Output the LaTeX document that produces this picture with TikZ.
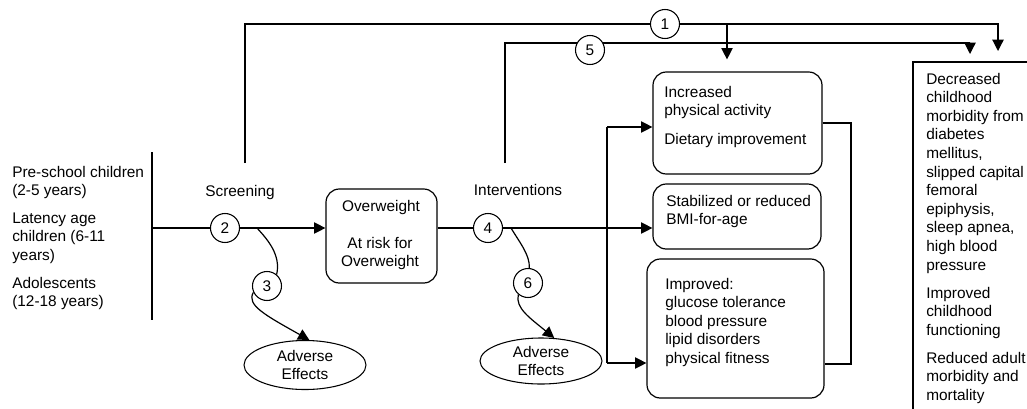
\documentclass[tikz,border=0pt]{standalone}
\usepackage{fontspec}
\setmainfont{Liberation Sans}
\usetikzlibrary{arrows.meta,shapes.geometric,backgrounds}
\begin{document}
\begin{tikzpicture}[x=0.75pt,y=-0.75pt,
  every node/.style={font=\fontsize{11.55}{13.95}\selectfont},
  txt/.style={anchor=base west, inner sep=0pt, align=left},
  ctxt/.style={anchor=base, inner sep=0pt, align=center},
  rbox/.style={draw, line width=0.9pt, rounded corners=10pt, inner sep=0pt},
  num/.style={draw, circle, fill=white, line width=0.8pt, minimum size=21.75pt, inner sep=0pt},
  eff/.style={draw, ellipse, line width=0.8pt, inner sep=0pt, align=center},
  ln/.style={line width=0.9pt},
  arr/.style={ln, -{Triangle[length=8.5pt,width=8.5pt]}},
]
\useasboundingbox (0,0) rectangle (1027,408);
\clip (0,0) rectangle (1027,408);

% boxes
\node[rbox, minimum width=83.25pt, minimum height=70.5pt] (ow) at (381.5,236) {};
\node[rbox, minimum width=126.75pt, minimum height=76.5pt] (b1) at (737.5,123) {};
\node[rbox, minimum width=126pt, minimum height=48.75pt] (b2) at (737,216.5) {};
\node[rbox, minimum width=132.75pt, minimum height=104.25pt] (b3) at (735.5,328.5) {};
\node[draw, line width=0.9pt, inner sep=0pt, minimum width=95.25pt, minimum height=268.5pt] (rb) at (976.5,241) {};

% ellipses
\node[eff, minimum width=91.5pt, minimum height=36.75pt] (ae1) at (305,365) {Adverse\\Effects};
\node[eff, minimum width=91.5pt, minimum height=34.5pt] (ae2) at (541,361) {Adverse\\Effects};

% numbered circles
\node[num] (c1) at (665,24) {1};
\node[num] (c2) at (225,228) {2};
\node[num] (c3) at (267,286) {3};
\node[num] (c4) at (488,228) {4};
\node[num] (c5) at (590,50) {5};
\node[num] (c6) at (528,283) {6};

% texts (base = baseline of last line)
\node[txt] (pre) at (12,195.6) {Pre-school children\\(2-5 years)};
\node[txt] (lat) at (12,260.2) {Latency age\\children (6-11\\years)};
\node[txt] (ado) at (12,306.6) {Adolescents\\(12-18 years)};
\node[ctxt] (scr) at (240,196) {Screening};
\node[ctxt] (int) at (518,195) {Interventions};
\node[ctxt] (owt1) at (381,211) {Overweight};
\node[ctxt] (owt2) at (380,266.6) {At risk for\\Overweight};
\node[txt] (b1t1) at (664,115.6) {Increased\\physical activity};
\node[txt] (b1t2) at (664,144) {Dietary improvement};
\node[txt] (b2t) at (666,224.6) {Stabilized or reduced\\BMI-for-age};
\node[txt] (b3t) at (665,363.4) {Improved:\\glucose tolerance\\blood pressure\\lipid disorders\\physical fitness};
\node[txt] (rt1) at (926,270) {Decreased\\childhood\\morbidity from\\diabetes\\mellitus,\\slipped capital\\femoral\\epiphysis,\\sleep apnea,\\high blood\\pressure};
\node[txt] (rt2) at (926,335.2) {Improved\\childhood\\functioning};
\node[txt] (rt3) at (926,400.2) {Reduced adult\\morbidity and\\mortality};

% coordinates
\coordinate (lvt) at (152,152);
\coordinate (lvb) at (152,320);
\coordinate (lvm) at (152,228);
\coordinate (sv) at (245,163);
\coordinate (t1) at (998,51);
\coordinate (j1) at (727,24);
\coordinate (iv) at (505,163);
\coordinate (k5) at (505,43);
\coordinate (t5) at (970,54);
\coordinate (br1) at (607,127);
\coordinate (br3) at (607,363);
\coordinate (q1) at (851,123);
\coordinate (q2) at (851,364);
\coordinate (s2) at (257,228);
\coordinate (s4) at (511,228);

\begin{scope}[on background layer]
\draw[ln] (lvt) -- (lvb);
\draw[arr] (lvm) -- (lvm -| ow.west);
\draw[arr] (sv) |- (c1) -| (t1);
\draw[arr, shorten >=9pt] (j1) -- (j1 |- b1.north);
\draw[arr] (iv) -- (k5) -| (t5);
\draw[arr] (ow.east |- c4) -- (c4 -| b2.west);
\draw[ln] (br1) -- (br3);
\draw[arr] (br1) -- (br1 -| b1.west);
\draw[arr] (br3) -- (br3 -| b3.west);
\draw[ln] (q1 -| b1.east) -- (q1) -- (q2) -- (q2 -| b3.east);
\draw[ln] (s2) .. controls (268,240) and (281,255) .. (c3.50);
\draw[arr] (c3.205) .. controls (246,305) and (265,315) .. (ae1.80);
\draw[ln] (s4) .. controls (520,243) and (530,255) .. (c6.85);
\draw[arr] (c6.230) .. controls (515,308) and (530,318) .. (ae2.60);
\end{scope}
\end{tikzpicture}
\end{document}
